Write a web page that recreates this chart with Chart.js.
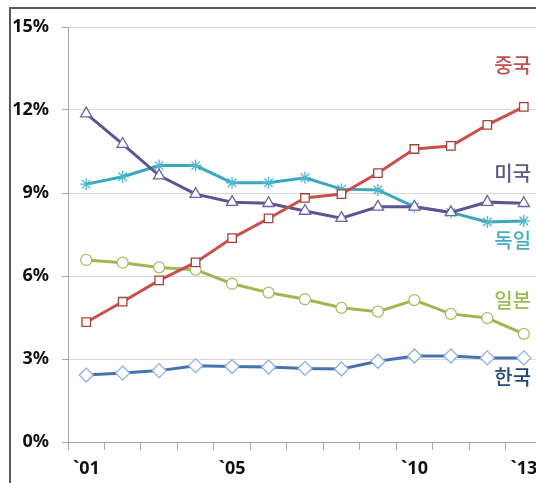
<!DOCTYPE html>
<html><head><meta charset="utf-8">
<script src="https://cdn.jsdelivr.net/npm/chart.js@4/dist/chart.umd.min.js"></script>
<style>
html,body{margin:0;padding:0;background:#fff;overflow:hidden;}
#wrap{position:relative;width:536px;height:483px;overflow:hidden;background:#fff;}
#frame{position:absolute;left:9px;top:7px;width:700px;height:700px;border-left:2px solid #5a5a5a;border-top:2px solid #5a5a5a;pointer-events:none;}
canvas{position:absolute;left:0;top:0;}
</style></head><body>
<div id="wrap"><canvas id="c" width="551" height="483" style="width:551px;height:483px"></canvas><div id="frame"></div></div>
<script>
// ---- data ----
const years = ['`01','`02','`03','`04','`05','`06','`07','`08','`09','`10','`11','`12','`13'];
const shownYearLabels = ['`01','`05','`10','`13'];
const yTicks = [0, 3, 6, 9, 12, 15];
const seriesNames = ['중국','미국','독일','일본','한국'];
const china   = [4.33, 5.07, 5.84, 6.49, 7.37, 8.08, 8.82, 8.96, 9.72, 10.59, 10.70, 11.46, 12.11];
const usa     = [11.87, 10.77, 9.63, 8.96, 8.67, 8.63, 8.35, 8.09, 8.50, 8.50, 8.30, 8.67, 8.63];
const germany = [9.32, 9.59, 9.99, 9.99, 9.37, 9.37, 9.55, 9.14, 9.11, 8.50, 8.30, 7.95, 7.99];
const japan   = [6.58, 6.48, 6.31, 6.23, 5.72, 5.40, 5.16, 4.85, 4.71, 5.13, 4.63, 4.48, 3.91];
const korea   = [2.42, 2.49, 2.58, 2.76, 2.73, 2.71, 2.66, 2.64, 2.92, 3.11, 3.11, 3.04, 3.04];

// ---- styles ----
const styles = [
  {line:'#c9504c', pt:'#a8403c', style:'rect', r:6, text:'#c0504d', labelY:13.6},
  {line:'#5f5493', pt:'#6c64a0', style:'triangle', r:6.5, text:'#5a5a82', labelY:9.72},
  {line:'#3aa7ba', pt:'#4bb8d0', style:'star', r:6, text:'#4bacc6', labelY:7.3},
  {line:'#9fb752', pt:'#a9bf66', style:'circle', r:5.5, text:'#9bbb59', labelY:5.13},
  {line:'#4672b2', pt:'#8fb0dc', style:'rectRot', r:7, text:'#23487a', labelY:2.35}
];
const seriesData = [china, usa, germany, japan, korea];

const FONT = "'Noto Sans', 'Noto Sans CJK KR', sans-serif";

const labelPlugin = {
  id: 'seriesLabels',
  afterDatasetsDraw(chart) {
    const ctx = chart.ctx;
    const ys = chart.scales.y;
    ctx.save();
    ctx.font = "500 20px 'Noto Sans CJK KR'";
    ctx.textAlign = 'center';
    ctx.textBaseline = 'middle';
    chart.data.datasets.forEach((ds, i) => {
      const meta = chart.getDatasetMeta(i);
      const last = meta.data[meta.data.length - 1];
      ctx.fillStyle = styles[i].text;
      ctx.fillText(ds.label, last.x - 11, ys.getPixelForValue(styles[i].labelY));
    });
    ctx.restore();
  }
};

new Chart(document.getElementById('c'), {
  type: 'line',
  data: {
    labels: years,
    datasets: seriesData.map((d, i) => ({
      label: seriesNames[i],
      data: d,
      borderColor: styles[i].line,
      borderWidth: 3,
      tension: 0,
      pointStyle: styles[i].style,
      pointRadius: styles[i].r,
      pointBackgroundColor: '#ffffff',
      pointBorderColor: styles[i].pt,
      pointBorderWidth: 1.3
    }))
  },
  options: {
    responsive: false,
    animation: false,
    devicePixelRatio: 1,
    layout: { padding: { left: 1, right: 9, top: 27, bottom: 0 } },
    plugins: { legend: { display: false }, tooltip: { enabled: false } },
    scales: {
      x: {
        type: 'category',
        offset: true,
        grid: { offset: true, drawOnChartArea: false, drawTicks: true, tickLength: 8, tickColor: '#a6a6a6' },
        border: { color: '#a6a6a6', width: 1 },
        ticks: {
          autoSkip: false, maxRotation: 0, minRotation: 0, padding: 8,
          color: '#111',
          font: { family: FONT, size: 18, weight: 'bold' },
          callback: (v, i) => shownYearLabels.includes(years[i]) ? years[i] : ''
        },
        afterFit: s => { s.height = 41; }
      },
      y: {
        min: 0, max: 15,
        afterBuildTicks: s => { s.ticks = yTicks.map(v => ({ value: v })); },
        grid: { color: '#d9d9d9', tickColor: '#a6a6a6', tickLength: 6 },
        border: { color: '#a6a6a6', width: 1 },
        ticks: {
          padding: 13, color: '#111',
          font: { family: FONT, size: 18, weight: 'bold' },
          callback: v => v + '%'
        },
        afterFit: s => { s.width = 67; }
      }
    }
  },
  plugins: [labelPlugin]
});
</script>
</body></html>
